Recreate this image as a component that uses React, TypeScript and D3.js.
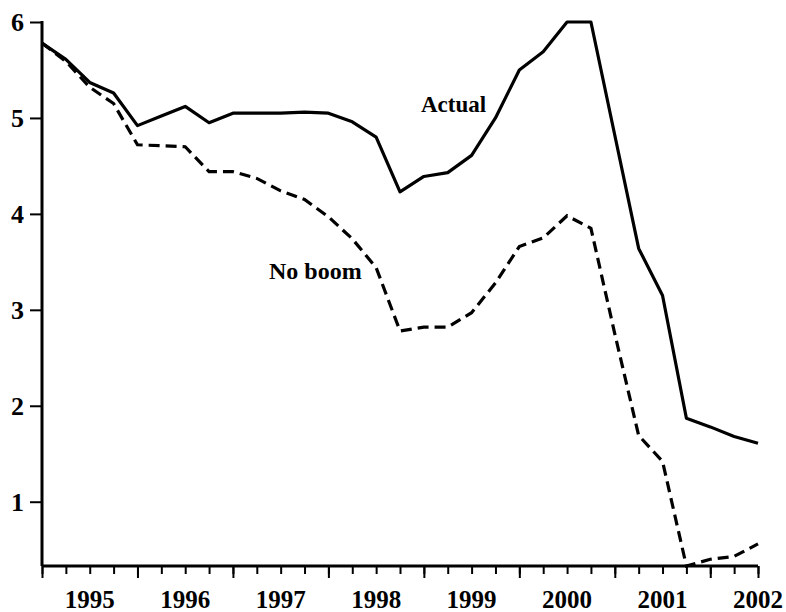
import React, { useEffect, useRef } from 'react';
import * as d3 from 'd3';

// quarterly dates (decimal years), 1994 Q3 .. 2002 Q1
const quarters = [
    1994.5, 1994.75, 1995.0, 1995.25, 1995.5, 1995.75, 1996.0, 1996.25,
    1996.5, 1996.75, 1997.0, 1997.25, 1997.5, 1997.75, 1998.0, 1998.25,
    1998.5, 1998.75, 1999.0, 1999.25, 1999.5, 1999.75, 2000.0, 2000.25,
    2000.5, 2000.75, 2001.0, 2001.25, 2001.5, 2001.75, 2002.0
];

const actual = [
    5.78, 5.61, 5.37, 5.26, 4.92, 5.02, 5.12, 4.95,
    5.05, 5.05, 5.05, 5.06, 5.05, 4.96, 4.80, 4.23,
    4.39, 4.43, 4.61, 5.00, 5.50, 5.69, 6.00, 6.00,
    4.82, 3.64, 3.15, 1.87, 1.78, 1.68, 1.61
];

const noBoom = [
    5.78, 5.59, 5.32, 5.15, 4.72, 4.71, 4.70, 4.44,
    4.44, 4.37, 4.24, 4.15, 3.97, 3.74, 3.44, 2.78,
    2.82, 2.82, 2.97, 3.28, 3.66, 3.75, 3.98, 3.85,
    2.75, 1.69, 1.42, 0.33, 0.40, 0.43, 0.56
];

const yTicks = [1, 2, 3, 4, 5, 6];
const yearLabels = [1995, 1996, 1997, 1998, 1999, 2000, 2001, 2002];
const longTicks = [1994.5, 1995.5, 1996.5, 1997.5, 1998.5, 1999.5, 2000.5, 2001.5, 2002];

const App = () => {
    const svgRef = useRef(null);

    useEffect(() => {
        const svg = d3.select(svgRef.current);
        const width = 786;
        const height = 612;
        const margin = { top: 22, right: 28, bottom: 46, left: 42 };
        const font = '"Liberation Serif", "DejaVu Serif", serif';

        svg.selectAll('*').remove();

        const x = d3.scaleLinear()
            .domain([1994.5, 2002])
            .range([margin.left, width - margin.right]);

        const y = d3.scaleLinear()
            .domain([0.33, 6])
            .range([height - margin.bottom, margin.top]);

        const points = (vals) => quarters.map((q, i) => [q, vals[i]]);

        const line = d3.line()
            .x(d => x(d[0]))
            .y(d => y(d[1]));

        // 折线
        svg.append('path')
            .attr('d', line(points(actual)))
            .attr('fill', 'none')
            .attr('stroke', '#000')
            .attr('stroke-width', 3.2)
            .attr('stroke-linejoin', 'round');

        svg.append('path')
            .attr('d', line(points(noBoom)))
            .attr('fill', 'none')
            .attr('stroke', '#000')
            .attr('stroke-width', 3.2)
            .attr('stroke-dasharray', '11 6');

        // x轴 - 季度刻度
        const xAxisY = height - margin.bottom;
        svg.append('g')
            .attr('transform', `translate(0,${xAxisY})`)
            .call(d3.axisBottom(x).tickValues(quarters).tickSize(8).tickFormat(() => ''))
            .call(g => g.selectAll('line').attr('stroke-width', 2))
            .call(g => g.select('.domain').attr('stroke-width', 3).attr('d', `M${x(1994.5)},0H${x(2002)}`));

        svg.append('g')
            .attr('transform', `translate(0,${xAxisY})`)
            .call(d3.axisBottom(x).tickValues(longTicks).tickSize(12).tickFormat(() => ''))
            .call(g => g.select('.domain').remove())
            .call(g => g.selectAll('line').attr('stroke-width', 2));

        svg.append('g')
            .selectAll('text')
            .data(yearLabels)
            .join('text')
            .attr('x', d => x(d))
            .attr('y', 608)
            .attr('text-anchor', 'middle')
            .attr('font-family', font)
            .attr('font-weight', 'bold')
            .attr('font-size', 25)
            .text(d => d);

        // y轴
        svg.append('g')
            .attr('transform', `translate(${margin.left},0)`)
            .call(d3.axisLeft(y).tickValues(yTicks).tickSize(12).tickFormat(d3.format('d')).tickPadding(6))
            .call(g => g.select('.domain').attr('stroke-width', 3).attr('d', `M0,${y(6) - 1}V${y(0.33)}`))
            .call(g => g.selectAll('line').attr('stroke-width', 2))
            .call(g => g.selectAll('text')
                .attr('font-family', font)
                .attr('font-weight', 'bold')
                .attr('font-size', 26)
                .attr('fill', '#000'));

        // 标注
        svg.append('text')
            .attr('x', 421)
            .attr('y', 112)
            .attr('font-family', font)
            .attr('font-weight', 'bold')
            .attr('font-size', 23)
            .text('Actual');

        svg.append('text')
            .attr('x', 269)
            .attr('y', 279)
            .attr('font-family', font)
            .attr('font-weight', 'bold')
            .attr('font-size', 24)
            .text('No boom');
    }, []);

    return <svg ref={svgRef} width={786} height={612}
        style={{ position: 'absolute', left: 0, top: 0, background: '#fff' }}></svg>;
};

export default App;
